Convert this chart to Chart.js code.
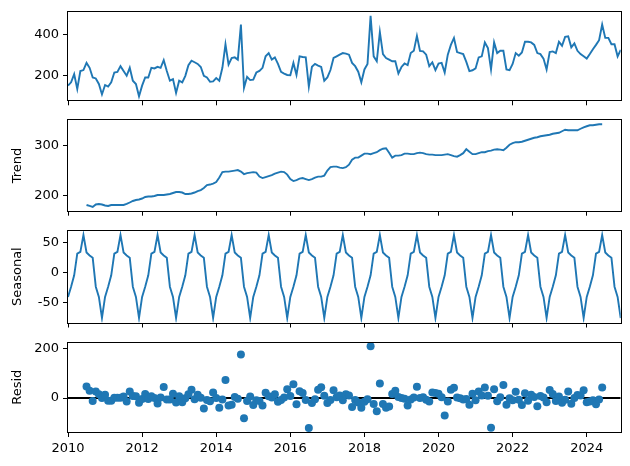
<!DOCTYPE html>
<html><head><meta charset="utf-8">
<script src="https://cdn.jsdelivr.net/npm/chart.js@4.4.1/dist/chart.umd.min.js"></script>
<style>
html,body{margin:0;padding:0;background:#fff;}
#wrap{position:relative;width:630px;height:466px;overflow:hidden;}
canvas{position:absolute;left:0;top:0;}
</style></head><body>
<div id="wrap">
<canvas id="c0" width="630" height="466"></canvas>
<canvas id="c1" width="630" height="466"></canvas>
<canvas id="c2" width="630" height="466"></canvas>
<canvas id="c3" width="630" height="466"></canvas>
</div>
<script>
// ---- data ----
const startYear = 2010;          // first month: 2010-01
const monthCount = 180;          // monthly, 2010-01 .. 2024-12
const xTickYears = [2010, 2012, 2014, 2016, 2018, 2020, 2022, 2024];

const observed = [
149,165,205,133,220,225,260,236,189,184,157,106,
152,144,165,213,216,244,220,197,236,173,157,97,
149,189,189,236,233,241,236,273,220,173,181,113,
173,165,197,249,271,263,255,240,197,189,168,170,
186,173,236,351,252,284,287,276,447,138,192,176,
178,213,221,236,292,308,276,287,255,216,208,201,
200,260,201,292,289,287,144,241,255,247,240,173,
189,225,284,292,300,308,305,300,260,244,217,165,
228,255,490,292,268,411,303,284,276,268,268,208,
240,257,249,308,319,392,319,316,300,244,263,225,
257,260,213,300,348,382,313,308,303,265,220,224,
233,287,292,360,332,228,360,308,319,319,228,225,
255,308,295,311,363,363,360,348,308,303,281,228,
313,316,308,363,344,387,390,336,355,319,303,292,
281,303,327,348,371,447,382,382,351,351,292,324
];

const trend = [
null,null,null,null,null,null,181,179,177,182,183,182,
180,179,181,181,181,181,181,183,186,189,191,192,
194,197,198,198,199,201,201,201,202,203,205,207,
207,206,203,203,204,206,209,211,215,221,222,224,
227,236,247,248,248,249,250,251,248,243,245,246,
247,246,238,235,237,239,241,244,246,248,247,242,
233,229,231,234,235,233,231,233,236,238,238,240,
250,257,258,258,256,255,257,262,272,276,276,280,
284,284,283,285,287,291,294,295,286,276,280,280,
281,284,284,283,283,285,286,285,283,282,282,281,
281,281,282,283,281,279,278,281,285,293,288,283,
283,285,287,287,289,290,292,293,292,291,296,302,
305,307,307,308,310,312,314,316,317,319,320,321,
322,324,325,326,329,332,331,331,331,331,334,337,
339,341,341,342,343,343,null,null,null,null,null,null
];

const seasonal = [
-41,-24,-5,31,34,62,33,28,24,-24,-41,-76,
-41,-24,-5,31,34,62,33,28,24,-24,-41,-76,
-41,-24,-5,31,34,62,33,28,24,-24,-41,-76,
-41,-24,-5,31,34,62,33,28,24,-24,-41,-76,
-41,-24,-5,31,34,62,33,28,24,-24,-41,-76,
-41,-24,-5,31,34,62,33,28,24,-24,-41,-76,
-41,-24,-5,31,34,62,33,28,24,-24,-41,-76,
-41,-24,-5,31,34,62,33,28,24,-24,-41,-76,
-41,-24,-5,31,34,62,33,28,24,-24,-41,-76,
-41,-24,-5,31,34,62,33,28,24,-24,-41,-76,
-41,-24,-5,31,34,62,33,28,24,-24,-41,-76,
-41,-24,-5,31,34,62,33,28,24,-24,-41,-76,
-41,-24,-5,31,34,62,33,28,24,-24,-41,-76,
-41,-24,-5,31,34,62,33,28,24,-24,-41,-76,
-41,-24,-5,31,34,62,33,28,24,-24,-41,-76
];

const resid = [
null,null,null,null,null,null,46,29,-12,26,15,0,
13,-11,-11,1,1,1,6,-14,26,8,7,-19,
-4,16,-4,7,0,-22,2,44,-6,-6,17,-18,
7,-17,-1,15,33,-5,13,1,-42,-8,-13,22,
0,-39,-6,72,-30,-27,4,-3,175,-81,-12,6,
-28,-9,-12,-30,21,7,2,15,-15,-8,2,35,
8,55,-25,27,20,-8,-120,-20,-5,33,43,9,
-20,-8,31,3,10,-9,15,10,-36,-8,-18,-39,
-15,-5,208,-24,-53,58,-24,-39,-34,16,29,4,
0,-3,-30,-6,2,45,0,3,-7,-14,22,20,
17,3,-70,-14,33,41,2,-1,-6,-4,-27,17,
-9,26,10,42,9,-119,35,-13,3,52,-27,-1,
-9,25,-7,-28,19,-11,13,4,-33,8,2,-17,
32,16,-12,6,-19,-7,26,-23,0,12,10,31,
-17,-14,-9,-25,-6,42,null,null,null,null,null,null
];

const observedTicks = [200, 400];
const trendTicks = [200, 300];
const seasonalTicks = [-50, 0, 50];
const residTicks = [0, 200];
const zeroLine = [0, 0];

// ---- build ----
const xValues = Array.from({length: monthCount}, (_, i) => startYear + i / 12);
const xMin = xValues[0], xMax = xValues[monthCount - 1];
const toXY = arr => arr.map((v, i) => ({x: xValues[i], y: v}));

const BLUE = '#1f77b4';
const FONT = {family: 'DejaVu Sans', size: 13};
const W = 630, H = 466, PLOT_LEFT = 68, PLOT_RIGHT = 620.7, TITLE_PAD_LEFT = 9.7;

const framePlugin = {
  id: 'frame',
  afterDraw(chart) {
    const a = chart.chartArea, ctx = chart.ctx;
    ctx.save();
    ctx.strokeStyle = '#000';
    ctx.lineWidth = 1;
    const l = Math.round(a.left) - 0.5, r = Math.round(a.right) + 0.5;
    const t = Math.round(a.top) - 0.5, b = Math.round(a.bottom) + 0.5;
    ctx.strokeRect(l, t, r - l, b - t);
    ctx.restore();
  }
};

function panel(id, top, bottom, yMin, yMax, yTicks, yTitle, datasets, showXLabels) {
  const xH = showXLabels ? 30 : 8;
  return new Chart(document.getElementById(id), {
    type: 'scatter',
    data: {datasets},
    plugins: [framePlugin],
    options: {
      responsive: false,
      animation: false,
      devicePixelRatio: 1,
      events: [],
      layout: {padding: {left: TITLE_PAD_LEFT, right: W - PLOT_RIGHT, top: top, bottom: H - bottom - xH}},
      plugins: {legend: {display: false}, tooltip: {enabled: false}},
      scales: {
        x: {
          type: 'linear', min: xMin, max: xMax,
          afterBuildTicks: s => { s.ticks = xTickYears.map(v => ({value: v})); },
          afterFit: s => { s.height = xH; },
          grid: {display: true, drawOnChartArea: false, drawTicks: true, tickLength: 5, tickColor: '#000', tickWidth: 1},
          border: {display: false},
          ticks: {display: showXLabels, padding: 4, color: '#000', font: FONT, maxRotation: 0, autoSkip: false,
                  callback: v => String(v)}
        },
        y: {
          type: 'linear', min: yMin, max: yMax,
          afterBuildTicks: s => { s.ticks = yTicks.map(v => ({value: v})); },
          afterFit: s => { s.width = PLOT_LEFT - TITLE_PAD_LEFT; },
          grid: {display: true, drawOnChartArea: false, drawTicks: true, tickLength: 5, tickColor: '#000', tickWidth: 1},
          border: {display: false},
          title: {display: !!yTitle, text: yTitle || '', color: '#000', font: FONT, padding: 0},
          ticks: {padding: 4, color: '#000', font: FONT, callback: v => String(v)}
        }
      }
    }
  });
}

const lineDs = arr => ({data: toXY(arr), showLine: true, borderColor: BLUE, borderWidth: 1.9,
  pointRadius: 0, fill: false, spanGaps: false, tension: 0});

panel('c0', 10, 100.3, 77.3, 509.6, observedTicks, '', [lineDs(observed)], false);
panel('c1', 120.3, 210.7, 169.5, 351, trendTicks, 'Trend', [lineDs(trend)], false);
panel('c2', 230.8, 322.5, -83.5, 69, seasonalTicks, 'Seasonal', [lineDs(seasonal)], false);
panel('c3', 342.5, 432, -136.5, 223, residTicks, 'Resid', [
  {data: toXY(resid), showLine: false, pointRadius: 4, pointBackgroundColor: BLUE,
   pointBorderColor: BLUE, pointBorderWidth: 0, order: 1},
  {data: [{x: xMin, y: zeroLine[0]}, {x: xMax, y: zeroLine[1]}], showLine: true,
   borderColor: '#000', borderWidth: 1.9, pointRadius: 0, order: 2}
], true);
</script>
</body></html>
